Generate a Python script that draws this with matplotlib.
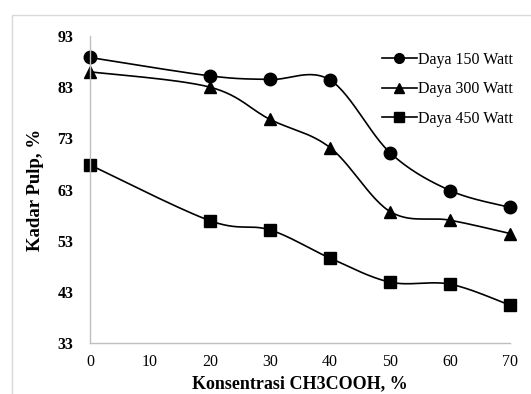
import numpy as np
import matplotlib
matplotlib.use("Agg")
import matplotlib.pyplot as plt
from matplotlib.patches import Rectangle

konsentrasi = [0, 20, 30, 40, 50, 60, 70]
daya_150 = [88.8, 85.2, 84.5, 84.4, 70.2, 62.8, 59.5]
daya_300 = [86.0, 83.0, 76.7, 71.2, 58.7, 57.0, 54.4]
daya_450 = [67.8, 56.9, 55.1, 49.6, 44.9, 44.5, 40.4]
labels = ["Daya 150 Watt", "Daya 300 Watt", "Daya 450 Watt"]
markers = ["o", "^", "s"]
yticks = [33, 43, 53, 63, 73, 83, 93]
xticks = [0, 10, 20, 30, 40, 50, 60, 70]


def smooth(x, y, n=30):
    # Excel-style smoothed line (Catmull-Rom Bezier)
    x = np.asarray(x, float)
    y = np.asarray(y, float)
    xs, ys = [], []
    for i in range(len(x) - 1):
        p0 = np.array([x[max(i - 1, 0)], y[max(i - 1, 0)]])
        p1 = np.array([x[i], y[i]])
        p2 = np.array([x[i + 1], y[i + 1]])
        p3 = np.array([x[min(i + 2, len(x) - 1)], y[min(i + 2, len(x) - 1)]])
        c1 = p1 + (p2 - p0) / 6
        c2 = p2 - (p3 - p1) / 6
        t = np.linspace(0, 1, n)[:, None]
        pts = ((1 - t) ** 3) * p1 + 3 * ((1 - t) ** 2) * t * c1 + 3 * (1 - t) * t ** 2 * c2 + t ** 3 * p2
        xs.extend(pts[:, 0])
        ys.extend(pts[:, 1])
    return xs, ys


plt.rcParams["font.family"] = "Liberation Serif"

fig = plt.figure(figsize=(5.31, 3.94), dpi=100)
fig.patches.append(Rectangle((12 / 531, -0.1), 1.2, 1 - 15 / 394 + 0.1, transform=fig.transFigure,
                             fill=False, edgecolor="#d9d9d9", linewidth=1))
ax = fig.add_axes([90 / 531, 1 - 343 / 394, 420 / 531, 307 / 394])

for vals, lab, m in zip([daya_150, daya_300, daya_450], labels, markers):
    sx, sy = smooth(konsentrasi, vals)
    ax.plot(sx, sy, color="black", linewidth=1.2, clip_on=False)
    ax.plot(konsentrasi, vals, linestyle="none", marker=m, color="black", markersize=9, clip_on=False)
    ax.plot([], [], color="black", linewidth=1.2, marker=m, markersize=7, label=lab)

ax.set_xlim(0, 70)
ax.set_ylim(33, 93)
ax.set_xticks(xticks)
ax.set_yticks(yticks)
ax.tick_params(length=0, labelsize=11.5)
ax.tick_params(axis="x", pad=8)
ax.tick_params(axis="y", pad=12)
for t in ax.get_yticklabels():
    t.set_fontweight("bold")
for s in ["top", "right"]:
    ax.spines[s].set_visible(False)
for s in ["left", "bottom"]:
    ax.spines[s].set_color("#bfbfbf")
    ax.spines[s].set_linewidth(1)

ax.set_xlabel("Konsentrasi CH3COOH, %", fontsize=13, fontweight="bold", labelpad=4)
ax.set_ylabel("Kadar Pulp, %", fontsize=13.5, fontweight="bold", labelpad=10)

ax.legend(loc="upper right", bbox_to_anchor=(1.04, 0.995), frameon=False, fontsize=11.5,
          handlelength=2.2, handletextpad=0.05, labelspacing=0.85)

fig.savefig("out.png", dpi=100)
